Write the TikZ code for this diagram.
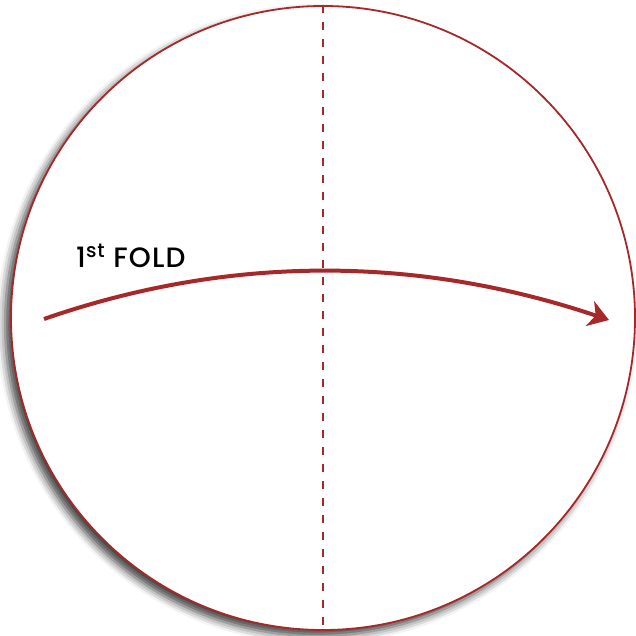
\documentclass[tikz,border=0pt]{standalone}
\usepackage{fontspec}
\setmainfont{Poppins}[BoldFont=* Medium, BoldFeatures={LetterSpace=4}]
\usetikzlibrary{arrows.meta,shadows.blur}
\definecolor{foldred}{RGB}{166,40,40}
\begin{document}
\begin{tikzpicture}[x=1pt,y=-1pt,
  disc/.style={draw=foldred, line width=1.8pt, fill=white, circle, minimum size=624pt, inner sep=0pt,
    blur shadow={shadow xshift=-6pt, shadow yshift=-6pt, shadow blur radius=8pt, shadow opacity=75}},
  foldline/.style={draw=foldred, line width=2pt, dash pattern=on 8pt off 9pt},
  foldarrow/.style={draw=foldred, line width=4pt, -{Stealth[length=20pt,width=26pt,inset=6pt]}},
  lbl/.style={anchor=base west, inner sep=0pt, font=\fontsize{28}{30}\selectfont\bfseries, text=black}
]
\useasboundingbox (0,0) rectangle (635,636);
\node[disc] (disc) at (323,318) {};
\draw[foldline] (disc.north) -- (disc.south);
\coordinate (a0) at (44,319);
\coordinate (a1) at (609,320);
\draw[foldarrow] (a0) .. controls (228,255) and (416,255) .. (a1);
\node[lbl] (label) at (76,267) {1\textsuperscript{st} FOLD};
\end{tikzpicture}
\end{document}
